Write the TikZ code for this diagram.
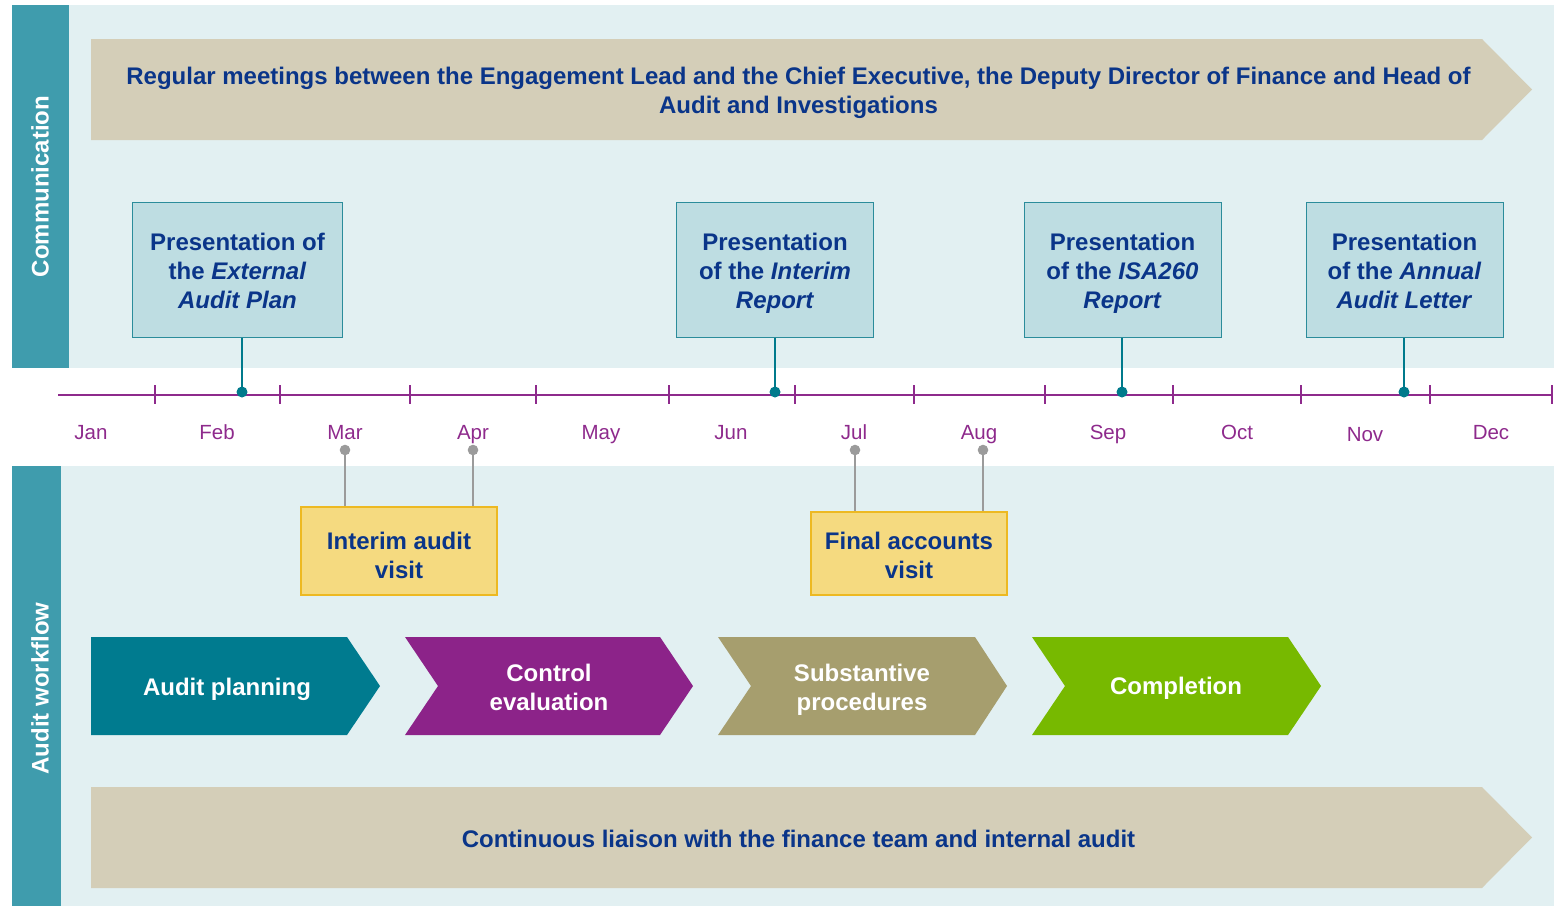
\documentclass[tikz,border=0pt]{standalone}
\usepackage{fontspec}
\setmainfont{Liberation Sans}
\definecolor{barcol}{HTML}{3F9CAD}
\definecolor{bandbg}{HTML}{E2F0F2}
\definecolor{tan}{HTML}{D4CEB8}
\definecolor{navy}{HTML}{0A3589}
\definecolor{presfill}{HTML}{BEDDE2}
\definecolor{presborder}{HTML}{2B8C9B}
\definecolor{tealdot}{HTML}{007A8C}
\definecolor{tlpurple}{HTML}{8E2A8C}
\definecolor{yelfill}{HTML}{F5DA80}
\definecolor{yelborder}{HTML}{EDB922}
\definecolor{greyc}{HTML}{9B9B9B}
\definecolor{chteal}{HTML}{007B8F}
\definecolor{chpurple}{HTML}{8C2389}
\definecolor{cholive}{HTML}{A69E6E}
\definecolor{chgreen}{HTML}{77B900}
\newcommand{\sst}{\strut}
\tikzset{
  bigtext/.style={font=\fontsize{24}{29}\selectfont\bfseries, align=center, inner sep=0},
  presbox/.style={draw=presborder, fill=presfill, line width=1pt, minimum height=135, inner sep=0},
  yelbox/.style={draw=yelborder, fill=yelfill, line width=1.5pt, minimum width=196, inner sep=0},
  boxtext/.style={bigtext, text=navy},
  monthlbl/.style={font=\fontsize{20.5}{24}\selectfont, text=tlpurple, inner sep=0, anchor=base},
  sidelbl/.style={bigtext, text=white, rotate=90},
  chevtext/.style={bigtext, text=white},
  tealline/.style={draw=tealdot, line width=2.6pt},
  greyline/.style={draw=greyc, line width=2.3pt},
}
\begin{document}
\begin{tikzpicture}[x=1pt,y=-1pt]
\useasboundingbox (0,0) rectangle (1563,906);
% bands
\fill[bandbg] (69,5) rectangle (1554,368);
\fill[barcol] (12,5) rectangle (69,368);
\fill[bandbg] (61,466) rectangle (1554,906);
\fill[barcol] (12,466) rectangle (61,906);
\node[sidelbl] (comm) at (40,186.5) {Communication};
\node[sidelbl] (wf) at (40,688.5) {Audit workflow};
% top arrow
\fill[tan] (91,39) -- (1482,39) -- (1532,89.5) -- (1482,140) -- (91,140) -- cycle;
\node[boxtext] (meet) at (798.5,93.3) {\sst Regular meetings between the Engagement Lead and the Chief Executive, the Deputy Director of Finance and Head of\\Audit and Investigations\sst};
% bottom arrow
\fill[tan] (91,787) -- (1482,787) -- (1532,837.5) -- (1482,888) -- (91,888) -- cycle;
\node[boxtext] (liaison) at (798.5,841.3) {\sst Continuous liaison with the finance team and internal audit\sst};
% timeline
\draw[tlpurple, line width=2.7pt] (58,395) -- (1553,395);
\foreach \tx in {155,280,410,536,669,795,914,1045,1173,1301,1430,1552}
  \draw[tlpurple, line width=2.5pt] (\tx,385) -- (\tx,404);
\foreach \mx/\my/\mn in {91/439.5/Jan,217/439.5/Feb,345/439.5/Mar,473/439.5/Apr,601/439.5/May,731/439.5/Jun,854/439.5/Jul,979/439.5/Aug,1108/439.5/Sep,1237/439.5/Oct,1365/441.5/Nov,1491/439.5/Dec}
  \node[monthlbl] (m\mn) at (\mx,\my) {\mn};
% presentation boxes
\node[presbox, minimum width=210] (p1) at (237,269.5) {};
\node[presbox, minimum width=197] (p2) at (774.5,269.5) {};
\node[presbox, minimum width=197] (p3) at (1122.5,269.5) {};
\node[presbox, minimum width=197] (p4) at (1404.5,269.5) {};
\node[boxtext] (p1t) at (237.5,274) {\sst Presentation of\\the \textit{External}\\\textit{Audit Plan}\sst};
\node[boxtext] (p2t) at (775,274) {\sst Presentation\\of the \textit{Interim}\\\textit{Report}\sst};
\node[boxtext] (p3t) at (1122.5,274) {\sst Presentation\\of the \textit{ISA260}\\\textit{Report}\sst};
\node[boxtext] (p4t) at (1404.5,274) {\sst Presentation\\of the \textit{Annual}\\\textit{Audit Letter}\sst};
\coordinate (d1) at (242,392);
\coordinate (d2) at (775,392);
\coordinate (d3) at (1122,392);
\coordinate (d4) at (1404,392);
\foreach \i in {1,...,4}{
  \draw[tealline] (p\i.south -| d\i) -- (d\i);
  \fill[tealdot] (d\i) circle (5.5);
}
% yellow boxes
\node[yelbox, minimum height=88] (y1) at (399,551) {};
\node[yelbox, minimum height=83] (y2) at (909,553.5) {};
\node[boxtext] (y1t) at (399,558.3) {\sst Interim audit\\visit\sst};
\node[boxtext] (y2t) at (909,558.3) {\sst Final accounts\\visit\sst};
\coordinate (g1) at (345,450);
\coordinate (g2) at (473,450);
\coordinate (g3) at (855,450);
\coordinate (g4) at (983,450);
\draw[greyline] (g1) -- (g1 |- y1.north);
\draw[greyline] (g2) -- (g2 |- y1.north);
\draw[greyline] (g3) -- (g3 |- y2.north);
\draw[greyline] (g4) -- (g4 |- y2.north);
\foreach \i in {1,...,4} \fill[greyc] (g\i) circle (5.3);
% chevrons
\fill[chteal] (91,637) -- (347,637) -- (380,686) -- (347,735) -- (91,735) -- cycle;
\node[chevtext] (c1) at (227,689.8) {\sst Audit planning\sst};
\fill[chpurple] (405,637) -- (660,637) -- (693,686) -- (660,735) -- (405,735) -- (438,686) -- cycle;
\node[chevtext] (c2) at (549,690.3) {\sst Control\\evaluation\sst};
\fill[cholive] (718,637) -- (975,637) -- (1007,686) -- (975,735) -- (718,735) -- (751,686) -- cycle;
\node[chevtext] (c3) at (862,690.3) {\sst Substantive\\procedures\sst};
\fill[chgreen] (1032,637) -- (1288,637) -- (1321,686) -- (1288,735) -- (1032,735) -- (1065,686) -- cycle;
\node[chevtext] (c4) at (1176,689) {\sst Completion\sst};
\end{tikzpicture}
\end{document}
